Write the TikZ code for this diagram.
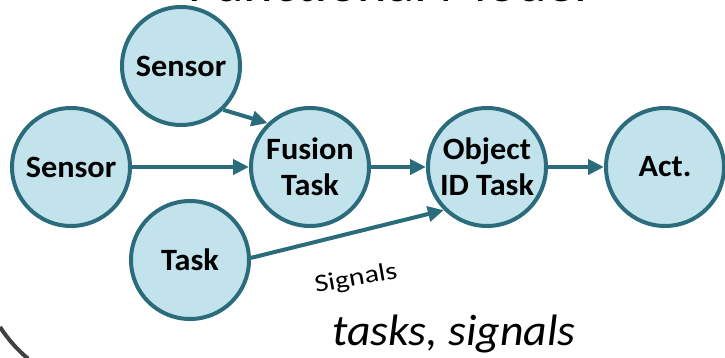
\documentclass[tikz,border=0pt]{standalone}
\usepackage{fontspec}
\setmainfont{Carlito}[FakeStretch=1.04]
\newfontfamily\sigfont{Carlito}[FakeStretch=1.2]
\usetikzlibrary{arrows.meta}
\definecolor{bubblefill}{HTML}{C2E3EC}
\definecolor{bubbleline}{HTML}{2B6C7C}
\definecolor{frameline}{HTML}{404040}
\begin{document}
\begin{tikzpicture}[x=1pt,y=-1pt,
  bubble/.style={circle, draw=bubbleline, fill=bubblefill, line width=4pt,
    minimum size=118pt, inner sep=0pt, align=center,
    font=\bfseries\fontsize{31}{36}\selectfont},
  flow/.style={draw=bubbleline, line width=4pt,
    -{Triangle[length=16pt,width=15pt]}}]
\useasboundingbox (0,0) rectangle (725,358);

% frame corner and title
\draw[frameline, line width=4pt] (0,327) arc[start angle=147, end angle=130, radius=143];
\node[anchor=base, font=\fontsize{54}{60}\selectfont] (title) at (388,2) {Functional Model};

% task graph
\node[bubble] (ts)  at (181,66)  {Sensor};
\node[bubble] (ls)  at (71,167)  {Sensor};
\node[bubble] (fus) at (310,167) {Fusion\\Task};
\node[bubble] (obj) at (487,167) {Object\\ID Task};
\node[bubble] (act) at (665,167) {Act.};
\node[bubble] (tsk) at (190,260) {Task};

\draw[flow] (ts.-46) -- (fus.134);
\draw[flow] (ls) -- (fus);
\draw[flow] (fus) -- (obj);
\draw[flow] (obj) -- (act);
\draw[flow] (tsk.2) -- (obj.-135);

% labels
\node[rotate=10, font=\sigfont\fontsize{25}{29}\selectfont] (sig) at (356,279) {Signals};
\node[anchor=base, font=\itshape\fontsize{44}{50}\selectfont] (cap) at (454,345) {tasks, signals};
\end{tikzpicture}
\end{document}
